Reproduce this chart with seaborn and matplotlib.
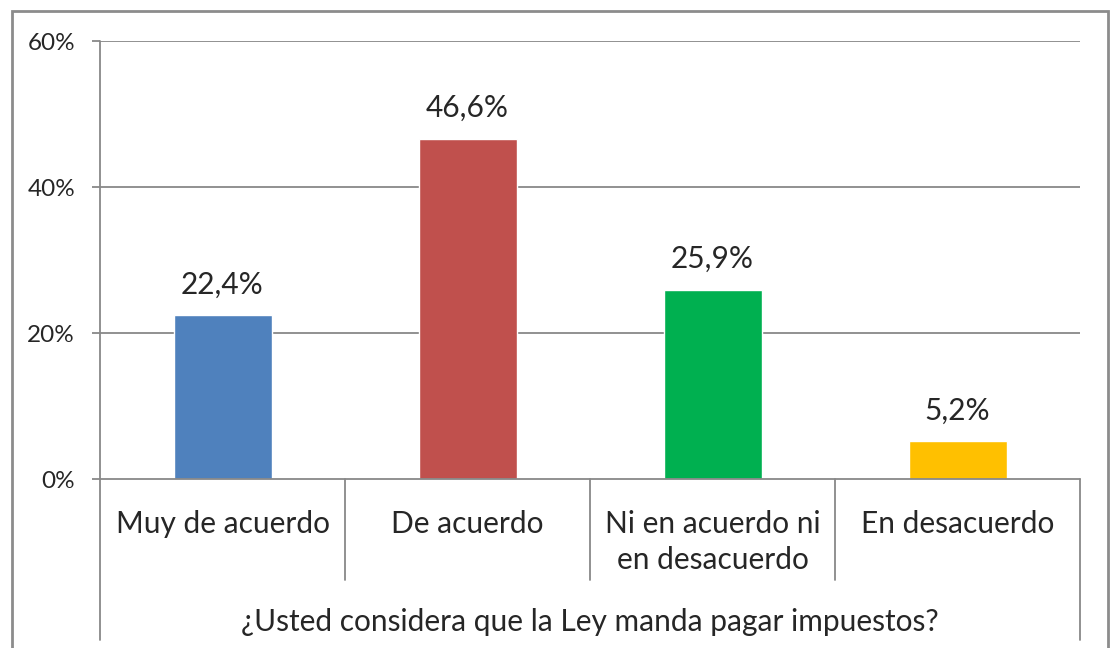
import matplotlib
matplotlib.use("Agg")
import matplotlib.pyplot as plt
import seaborn as sns
import pandas as pd
from matplotlib.patches import Rectangle
from matplotlib.ticker import FuncFormatter

categories = ["Muy de acuerdo", "De acuerdo", "Ni en acuerdo ni\nen desacuerdo", "En desacuerdo"]
values = [22.4, 46.6, 25.9, 5.2]
colors = ["#4F81BD", "#C0504D", "#00B050", "#FFC000"]
y_ticks = [0, 20, 40, 60]
axis_title = "¿Usted considera que la Ley manda pagar impuestos?"

sns.set_style("white")
plt.rcParams["font.family"] = ["Lato", "DejaVu Sans"]

W, H = 1114, 648
fig = plt.figure(figsize=(W / 100, H / 100), dpi=100)
ax = fig.add_axes([100 / W, 1 - 479 / H, 980 / W, 438 / H])

df = pd.DataFrame({"cat": categories, "val": values})
sns.barplot(data=df, x="cat", y="val", hue="cat", palette=colors,
            width=0.4, legend=False, saturation=1, ax=ax)

ax.set_ylim(0, 60)
ax.set_xlim(-0.5, len(categories) - 0.5)
ax.set_yticks(y_ticks)
ax.yaxis.set_major_formatter(FuncFormatter(lambda v, p: f"{v:.0f}%"))
grid_c = "#888888"
for t in y_ticks[1:]:
    ax.axhline(t, color=grid_c, lw=1.3, zorder=0)

for s in ["top", "right", "bottom", "left"]:
    ax.spines[s].set_visible(False)

# axis lines like an Excel multi-level category axis
ax.plot([-0.5, len(categories) - 0.5], [0, 0], color=grid_c, lw=1.3,
        clip_on=False, zorder=3)
xt = ax.get_xaxis_transform()
ax.plot([-0.5, -0.5], [1, -0.368], color=grid_c, lw=1.3, transform=xt, clip_on=False)
ax.plot([3.5, 3.5], [0, -0.368], color=grid_c, lw=1.3, transform=xt, clip_on=False)
for xs in [0.5, 1.5, 2.5]:
    ax.plot([xs, xs], [0, -0.23], color=grid_c, lw=1.3, transform=xt, clip_on=False)

ax.tick_params(axis="y", length=6, width=1.3, color=grid_c, pad=12,
               labelsize=17.5, left=True)
ax.tick_params(axis="x", length=0, pad=22, labelsize=21.5)
for lab in ax.get_xticklabels():
    lab.set_linespacing(1.35)

ax.set_xlabel("")
ax.set_ylabel("")
ax.text(0.5, (479 - 622) / 438, axis_title, transform=ax.transAxes,
        ha="center", va="center", fontsize=21.5)

labels = [f"{v:.1f}%".replace(".", ",") for v in values]
for cont, lab in zip(ax.containers, labels):
    ax.bar_label(cont, labels=[lab], padding=12, fontsize=21.5)

fig.patches.append(Rectangle((12 / W, -0.1), 1096 / W, 1.1 - 11 / H,
                             transform=fig.transFigure, fill=False,
                             edgecolor="#8c8c8c", lw=2))

fig.savefig("out.png", dpi=100)
